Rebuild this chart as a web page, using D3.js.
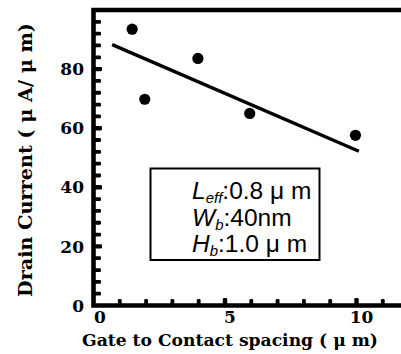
<!DOCTYPE html>
<html>
<head>
<meta charset="utf-8">
<script src="https://cdn.jsdelivr.net/npm/d3@7"></script>
<style>
  body { margin: 0; background: #fff; }
  svg { display: block; }
</style>
</head>
<body>
<svg width="401" height="354"></svg>
<script>
// measured points (gate-contact spacing in um, drain current in uA/um)
const spacing = [1.47, 1.95, 3.97, 5.94, 9.96];
const current = [93.5, 69.8, 83.6, 65.0, 57.6];
// fitted trend line end points
const fitX = [0.71, 10.09];
const fitY = [88.3, 52.2];
const xTickLabels = [0, 5, 10];
const yTickLabels = [0, 20, 40, 60, 80];

const W = 401, H = 354;
const svg = d3.select('svg');

const x = d3.scaleLinear().domain([0, 12]).range([93.5, 93.5 + 12 * 26.3]);
const y = d3.scaleLinear().domain([0, 100]).range([305.5, 10]);

const serif = '"DejaVu Serif", "Liberation Serif", serif';

// shrink / grow a text so it spans the width seen in the reference
function fitWidth(sel, target) {
    var w = sel.node().getComputedTextLength();
    var fs = parseFloat(sel.attr('font-size'));
    sel.attr('font-size', (fs * target / w).toFixed(2));
}

/* frame: left, top and bottom lines */
svg.append('path')
    .attr('fill', 'none')
    .attr('stroke', '#000')
    .attr('stroke-width', 4.6)
    .attr('d', 'M' + W + ',' + y(100) + 'H' + x(0) + 'V' + y(0) + 'H' + W);

/* y ticks, pointing inside */
svg.append('g')
    .selectAll('rect')
    .data(d3.range(4, 100, 4))
    .join('rect')
    .attr('x', x(0))
    .attr('y', d => y(d) - (d % 20 === 0 ? 2.2 : 1.9))
    .attr('width', d => d % 20 === 0 ? 8.5 : 7.5)
    .attr('height', d => d % 20 === 0 ? 4.4 : 3.8)
    .attr('rx', 1.3)
    .attr('fill', '#000');

/* x ticks, pointing inside */
svg.append('g')
    .selectAll('rect')
    .data(d3.range(1, 12, 1))
    .join('rect')
    .attr('x', d => x(d) - (d % 5 === 0 ? 2.2 : 1.9))
    .attr('y', d => y(0) - (d % 5 === 0 ? 7.5 : 6.5))
    .attr('width', d => d % 5 === 0 ? 4.4 : 3.8)
    .attr('height', d => d % 5 === 0 ? 7.5 : 6.5)
    .attr('rx', 1.3)
    .attr('fill', '#000');

/* tick labels */
svg.append('g')
    .selectAll('text')
    .data(yTickLabels)
    .join('text')
    .attr('x', 84)
    .attr('y', d => y(d))
    .attr('dy', '0.36em')
    .attr('text-anchor', 'end')
    .attr('font-family', serif)
    .attr('font-weight', 'bold')
    .attr('font-size', 17)
    .text(d => d);

svg.append('g')
    .selectAll('text')
    .data(xTickLabels)
    .join('text')
    .attr('x', d => x(d) + (d === 0 ? 6.5 : 5))
    .attr('y', 323)
    .attr('text-anchor', 'middle')
    .attr('font-family', serif)
    .attr('font-weight', 'bold')
    .attr('font-size', 17)
    .text(d => d);

/* axis titles */
var xTitle = svg.append('text')
    .attr('x', 230)
    .attr('y', 346)
    .attr('text-anchor', 'middle')
    .attr('font-family', serif)
    .attr('font-weight', 'bold')
    .attr('font-size', 20)
    .text('Gate to Contact spacing ( μ m)');
fitWidth(xTitle, 296);

var yTitle = svg.append('text')
    .attr('transform', 'translate(32,160) rotate(-90)')
    .attr('text-anchor', 'middle')
    .attr('font-family', serif)
    .attr('font-weight', 'bold')
    .attr('font-size', 20)
    .text('Drain Current ( μ A/ μ m)');
fitWidth(yTitle, 274);

/* trend line */
svg.append('path')
    .datum(d3.zip(fitX, fitY))
    .attr('fill', 'none')
    .attr('stroke', '#000')
    .attr('stroke-width', 3.4)
    .attr('d', d3.line()
        .x(d => x(d[0]))
        .y(d => y(d[1])));

/* data points */
svg.append('g')
    .selectAll('circle')
    .data(d3.zip(spacing, current))
    .join('circle')
    .attr('cx', d => x(d[0]))
    .attr('cy', d => y(d[1]))
    .attr('r', 5.6)
    .attr('fill', '#000');

/* annotation box */
svg.append('rect')
    .attr('x', 150.5)
    .attr('y', 168.5)
    .attr('width', 169)
    .attr('height', 91.5)
    .attr('fill', 'none')
    .attr('stroke', '#000')
    .attr('stroke-width', 2);

const notes = [
    { main: 'L', sub: 'eff', rest: ':0.8 μ m' },
    { main: 'W', sub: 'b', rest: ':40nm' },
    { main: 'H', sub: 'b', rest: ':1.0 μ m' }
];
const noteY = [199, 226, 252];

notes.forEach((n, i) => {
    var t = svg.append('text')
        .attr('x', 192)
        .attr('y', noteY[i])
        .attr('font-family', '"Liberation Sans", Arial, sans-serif')
        .attr('font-size', 24.5);
    t.append('tspan').attr('font-style', 'italic').text(n.main);
    t.append('tspan').attr('font-style', 'italic').attr('font-size', 15)
        .attr('dy', 4).text(n.sub);
    t.append('tspan').attr('dy', -4).text(n.rest);
});
</script>
</body>
</html>
